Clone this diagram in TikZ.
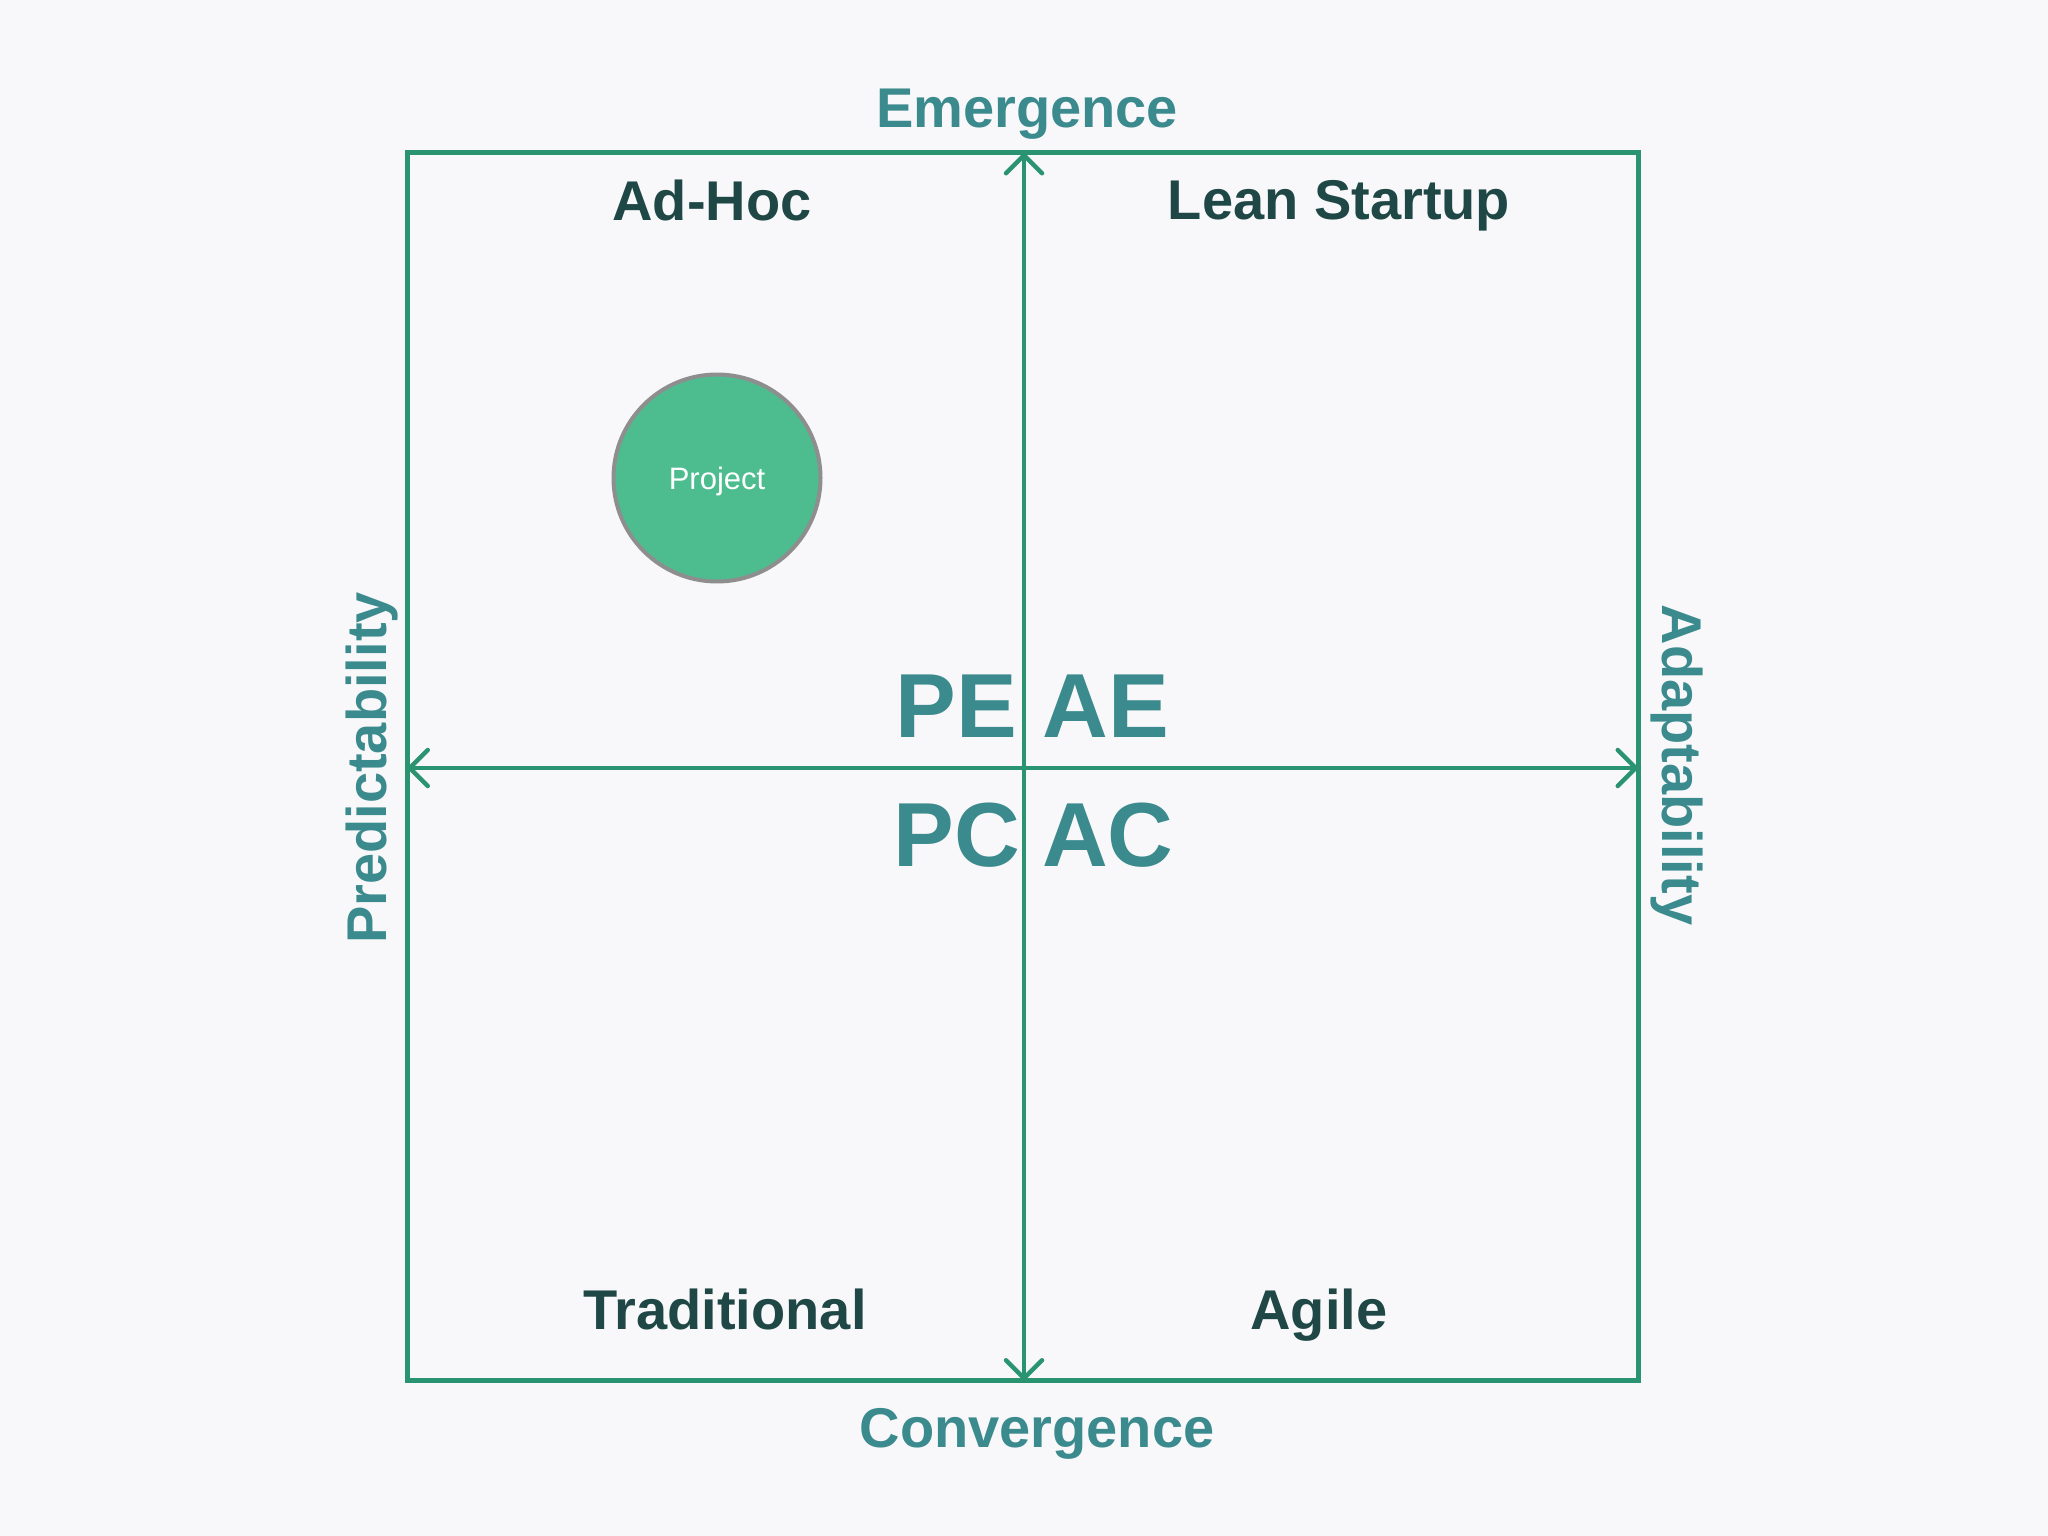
\documentclass[tikz,border=0pt]{standalone}
\usepackage{fontspec}
\setmainfont{Liberation Sans}
\usetikzlibrary{arrows.meta}
\definecolor{bg}{HTML}{F8F8FA}
\definecolor{boxgreen}{HTML}{2A9470}
\definecolor{axisteal}{HTML}{3B8A8D}
\definecolor{darkteal}{HTML}{1E4745}
\definecolor{projfill}{HTML}{4DBD90}
\definecolor{projedge}{HTML}{8E8E8E}
\tikzset{
  frame/.style={draw=boxgreen, line width=5pt},
  axisarrow/.style={draw=boxgreen, line width=4.5pt,
    {Straight Barb[length=18pt,width=36pt,line cap=round,line join=round]}-{Straight Barb[length=18pt,width=36pt,line cap=round,line join=round]}},
  axislabel/.style={text=axisteal, font=\fontsize{56}{60}\selectfont\bfseries, inner sep=0pt, text depth=0pt},
  quadlabel/.style={text=darkteal, font=\fontsize{56}{60}\selectfont\bfseries, inner sep=0pt, text depth=0pt},
  biglabel/.style={text=axisteal, font=\fontsize{91}{96}\selectfont\bfseries, inner sep=0pt},
  projectnode/.style={circle, fill=projfill, draw=projedge, line width=4pt, minimum size=207pt, inner sep=0pt,
    text=white, font=\fontsize{31}{34}\selectfont, text depth=0pt}
}
\begin{document}
\begin{tikzpicture}[x=1pt,y=-1pt]
\fill[bg] (0,0) rectangle (2048,1536);
\useasboundingbox (0,0) rectangle (2048,1536);
% frame
\coordinate (tl) at (407.5,153);
\coordinate (br) at (1638,1380.5);
\draw[frame] (tl) rectangle (br);
% axes
\coordinate (top) at (1024,153);
\coordinate (bottom) at (1024,1380.5);
\coordinate (left) at (407.5,768);
\coordinate (right) at (1638,768);
\draw[axisarrow] (bottom) -- (top);
\draw[axisarrow] (left) -- (right);
% axis labels
\node[axislabel] (emergence) at (1027,108) {Emergence};
\node[axislabel] (convergence) at (1037,1428) {Convergence};
\node[axislabel, rotate=90] (predict) at (366,768) {Predictability};
\node[axislabel, rotate=-90] (adapt) at (1683,765) {Adaptability};
% quadrant labels
\node[quadlabel] (adhoc) at (712,200) {Ad-Hoc};
\node[quadlabel] (lean) at (1339,200) {Lean Startup};
\node[quadlabel] (trad) at (725,1309) {Traditional};
\node[quadlabel] (agile) at (1319,1309) {Agile};
% central labels
\node[biglabel, anchor=base] (pe) at (956,737) {PE};
\node[biglabel, anchor=base] (ae) at (1106,737) {AE};
\node[biglabel, anchor=base] (pc) at (957,866) {PC};
\node[biglabel, anchor=base] (ac) at (1108,866) {AC};
% project
\node[projectnode] (project) at (717,478) {Project};
\end{tikzpicture}
\end{document}
